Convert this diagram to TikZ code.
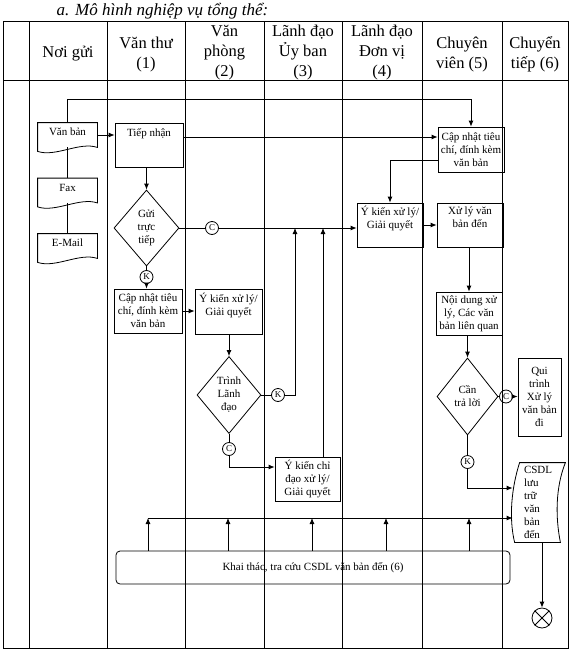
\documentclass[tikz,border=0pt]{standalone}
\usepackage{fontspec}
\setmainfont{Liberation Serif}
\usetikzlibrary{shapes.geometric,arrows.meta}

\newcommand\topbox[3]{\parbox[c][#1][t]{#2}{\centering #3}}

\begin{document}
\begin{tikzpicture}[x=1pt,y=-1pt,line width=0.8pt,
	txt/.style={font=\fontsize{11}{13}\selectfont},
	hdr/.style={align=center,font=\fontsize{16.5}{20}\selectfont},
	box/.style={txt,draw,align=center,inner sep=1pt},
	doc/.style={txt,inner sep=1pt,text depth=6pt,minimum width=59,minimum height=24},
	dec/.style={txt,draw,diamond,align=center,inner sep=0pt},
	con/.style={draw,circle,inner sep=0pt,minimum size=13,font=\fontsize{9}{10}\selectfont},
	arr/.style={-{Latex[length=6pt,width=5pt]}}]
		\useasboundingbox (0,0) rectangle (571,651);
		\node[anchor=base,font=\fontsize{17}{20}\selectfont\itshape] (title) at (162.5,15) {a. Mô hình nghiệp vụ tổng thể:};
		% lanes
		\draw (3,21) rectangle (568,648);
		\draw (3,80) -- (568,80);
		\foreach \x in {29,107,185,264,342,422,502}
			\draw (\x,21) -- (\x,648);
		\node[hdr] (h1) at (68,54) {Nơi gửi};
		\node[hdr] (h2) at (146,54.5) {Văn thư\\(1)};
		\node[hdr] (h3) at (224.5,53) {Văn\\phòng\\(2)};
		\node[hdr] (h4) at (303,53) {Lãnh đạo\\Ủy ban\\(3)};
		\node[hdr] (h5) at (382,53) {Lãnh đạo\\Đơn vị\\(4)};
		\node[hdr] (h6) at (462,54.5) {Chuyên\\viên (5)};
		\node[hdr] (h7) at (535,54.5) {Chuyển\\tiếp (6)};
		% sender
		\node[doc] (vanban) at (67.5,135) {Văn bản};
		\node[doc] (fax) at (67.5,190.5) {Fax};
		\node[doc] (email) at (67.5,246) {E-Mail};
		\foreach \n in {vanban,fax,email}
			\draw (\n.north west) -- (\n.north east) -- (\n.south east)
				.. controls ([xshift=-18pt,yshift=6pt]\n.south east) and ([xshift=18pt,yshift=-10pt]\n.south west) .. ([yshift=-4pt]\n.south west) -- cycle;
		% (1) - (4)
		\node[box,minimum width=68,minimum height=44,text depth=24pt] (tiepnhan) at (149,145) {Tiếp nhận};
		\node[dec,minimum width=65,minimum height=76] (gui) at (146.5,228) {Gửi\\trực\\tiếp};
		\node[con] (c1) at (212,228) {C};
		\node[con] (k1) at (146.5,277) {K};
		\node[box,minimum width=68,minimum height=44] (capnhat1) at (148,311) {Cập nhật tiêu\\chí, đính kèm\\văn bản};
		\node[box,minimum width=67,minimum height=45] (ykien3) at (228.5,311.5) {\topbox{37pt}{63pt}{Ý kiến xử lý/\\Giải quyết}};
		\node[dec,minimum width=64,minimum height=77] (trinh) at (229,395) {Trình\\Lãnh\\đạo};
		\node[con] (k2) at (278,395) {K};
		\node[con] (c2) at (229,449) {C};
		\node[box,minimum width=65,minimum height=44] (chidao) at (307.5,479) {Ý kiến chỉ\\đạo xử lý/\\Giải quyết};
		% (4) - (6)
		\node[box,minimum width=66,minimum height=45] (capnhat5) at (471,149.5) {Cập nhật tiêu\\chí, đính kèm\\văn bản};
		\node[box,minimum width=66,minimum height=44] (ykien5) at (390,225) {\topbox{37pt}{62pt}{Ý kiến xử lý/\\Giải quyết}};
		\node[box,minimum width=66,minimum height=44] (xuly) at (470,225) {\topbox{37pt}{62pt}{Xử lý văn\\bản đến}};
		\node[box,minimum width=66,minimum height=43] (noidung) at (469,313.5) {Nội dung xử\\lý, Các văn\\bản liên quan};
		\node[dec,minimum width=61,minimum height=77] (cantraloi) at (467.5,396.5) {Cần\\trả lời};
		\node[con] (c3) at (506,396.5) {C};
		\node[box,minimum width=43,minimum height=78] (quitrinh) at (539.5,397) {Qui\\trình\\Xử lý\\văn bản\\đi};
		\node[con] (k3) at (467.5,462) {K};
		\node[txt,align=left,text width=30pt,minimum width=52,minimum height=79,inner sep=0pt] (csdl) at (539,502.5) {CSDL\\lưu\\trữ\\văn\\bản\\đến};
		\draw ([xshift=7pt]csdl.north west) -- (csdl.north east)
			.. controls ([xshift=-10pt,yshift=-25pt]csdl.north east) and ([xshift=-10pt,yshift=25pt]csdl.south east) .. ([xshift=-5pt]csdl.south east)
			-- ([xshift=2pt]csdl.south west)
			.. controls ([xshift=-4pt,yshift=25pt]csdl.south west) and ([xshift=-1pt,yshift=-25pt]csdl.north west) .. ([xshift=7pt]csdl.north west) -- cycle;
		\node[draw,circle,minimum size=20,inner sep=0pt] (endc) at (542,618) {};
		\draw (endc.north west) -- (endc.south east) (endc.north east) -- (endc.south west);
		\node[box,rounded corners=4pt,minimum width=394,minimum height=33] (khaithac) at (313,567.5) {Khai thác, tra cứu CSDL văn bản đến (6)};
		% flows
		\draw[arr] (vanban.north) -- ++(0,-23) -| (capnhat5.north);
		\draw[arr] (vanban.east) -- (vanban.east -| tiepnhan.west);
		\draw[arr] ([yshift=8pt]tiepnhan.east) -- ([yshift=8pt]tiepnhan.east -| capnhat5.west);
		\draw (vanban.south) -- (fax.north) (fax.south) -- (email.north);
		\draw[arr] (tiepnhan.south -| gui.north) -- (gui.north);
		\draw (gui.east) -- (c1.west);
		\draw[arr] (c1.east) -- (c1.east -| ykien5.west);
		\draw (gui.south) -- (k1.north);
		\draw[arr] (k1.south) -- (k1.south |- capnhat1.north);
		\draw[arr] (capnhat1.east) -- (capnhat1.east -| ykien3.west);
		\draw[arr] (ykien3.south -| trinh.north) -- (trinh.north);
		\draw (trinh.east) -- (k2.west);
		\coordinate (j1) at (295,228);
		\coordinate (j2) at (323,228);
		\draw[arr] (k2.east) -| (j1);
		\draw[arr] (chidao.north -| j2) -- (j2);
		\draw (trinh.south) -- (c2.north);
		\draw[arr] (c2.south) |- ([yshift=12pt]chidao.west);
		\draw[arr] ([yshift=-10.5pt]capnhat5.west) -| (ykien5.north);
		\draw[arr] (ykien5.east) -- (xuly.west);
		\draw[arr] (xuly.south -| noidung.north) -- (noidung.north);
		\draw[arr] (noidung.south -| cantraloi.north) -- (cantraloi.north);
		\draw (cantraloi.east) -- (c3.west);
		\draw[arr] (c3.east) -- (c3.east -| quitrinh.west);
		\draw (cantraloi.south) -- (k3.north);
		\draw[arr] (k3.south) |- ([yshift=14.5pt]csdl.west);
		\draw[arr] (csdl.south -| endc.north) -- (endc.north);
		\coordinate (bus) at (148,518);
		\draw[arr] (bus) -- (bus -| csdl.west);
		\foreach \x in {148,228,312,386,469}
			\draw[arr] (khaithac.north -| \x,0) -- (\x,518);
\end{tikzpicture}
\end{document}
